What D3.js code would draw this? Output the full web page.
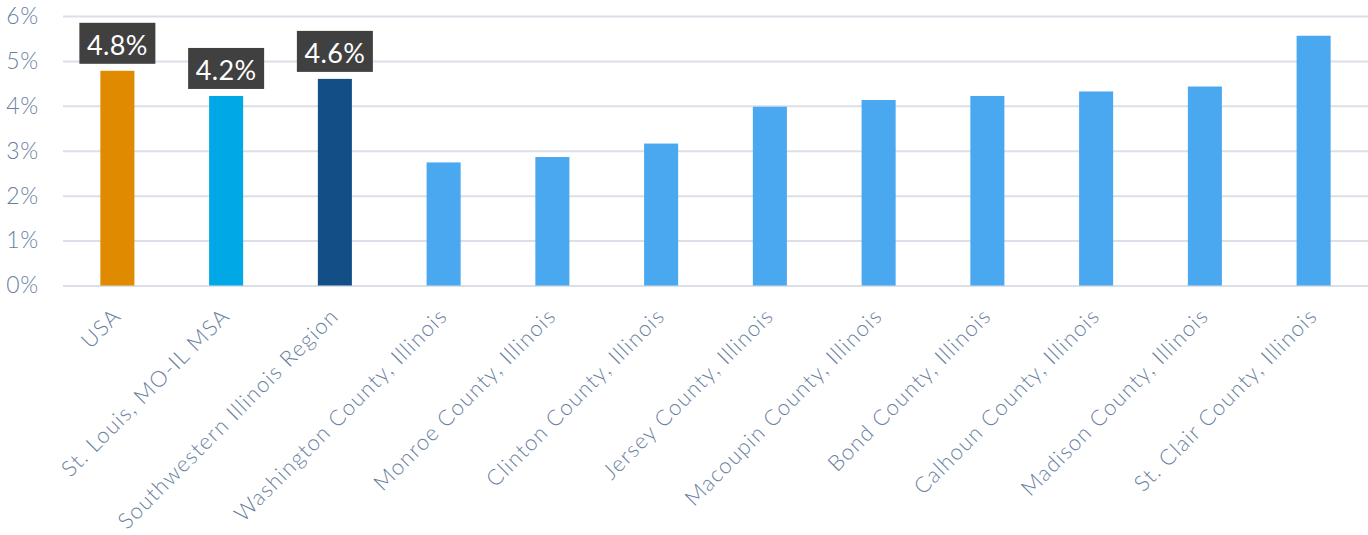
<!DOCTYPE html>
<html>
<head>
<meta charset="utf-8">
<script src="https://cdn.jsdelivr.net/npm/d3@7"></script>
<style>
  html, body { margin: 0; padding: 0; background: #fff; }
  svg { display: block; }
</style>
</head>
<body>
<svg id="chart" width="1368" height="535"></svg>
<script>
const categories = [
  "USA",
  "St. Louis, MO-IL MSA",
  "Southwestern Illinois Region",
  "Washington County, Illinois",
  "Monroe County, Illinois",
  "Clinton County, Illinois",
  "Jersey County, Illinois",
  "Macoupin County, Illinois",
  "Bond County, Illinois",
  "Calhoun County, Illinois",
  "Madison County, Illinois",
  "St. Clair County, Illinois"
];
const values = [4.78, 4.22, 4.6, 2.74, 2.86, 3.16, 3.98, 4.13, 4.22, 4.32, 4.43, 5.56];
const barColors = ["#e08a00", "#00a9e6", "#134f86", "#4aa8f0", "#4aa8f0", "#4aa8f0",
                   "#4aa8f0", "#4aa8f0", "#4aa8f0", "#4aa8f0", "#4aa8f0", "#4aa8f0"];
const labelIndices = [0, 1, 2];
const labelTexts = ["4.8%", "4.2%", "4.6%"];
const yTicks = [0, 1, 2, 3, 4, 5, 6];

const svg = d3.select("#chart");
const margin = { left: 63, right: 0, top: 16, bottom: 249.5 };
const W = 1368, H = 535;

const x = d3.scaleBand().domain(categories).range([margin.left, W - margin.right])
  .paddingInner(0.687).paddingOuter(0.3435);
const y = d3.scaleLinear().domain([0, 6]).range([H - margin.bottom, margin.top]);

const textColor = "#6a7fa1";
const fontFam = "Lato, 'Open Sans', sans-serif";

// gridlines
const grid = svg.append("g")
  .attr("transform", `translate(${margin.left},0)`)
  .call(d3.axisLeft(y).tickValues(yTicks).tickSize(-(W - margin.left - margin.right)).tickFormat(""));
grid.select(".domain").remove();
grid.selectAll("line").attr("stroke", "#dadfe8").attr("stroke-width", 2);

// y labels
const yAxis = svg.append("g").attr("transform", `translate(${margin.left},0)`)
  .call(d3.axisLeft(y).tickValues(yTicks).tickSize(0).tickPadding(24).tickFormat(d => d + "%"));
yAxis.select(".domain").remove();
yAxis.selectAll("text").attr("fill", textColor).attr("font-size", 23)
  .attr("font-family", fontFam).attr("font-weight", 300).attr("letter-spacing", 0.8);

// bars
svg.append("g").selectAll("rect").data(values).join("rect")
  .attr("x", (d, i) => x(categories[i]))
  .attr("width", x.bandwidth())
  .attr("y", d => y(d))
  .attr("height", d => y(0) - y(d))
  .attr("fill", (d, i) => barColors[i]);

// x labels
const xAxis = svg.append("g").attr("transform", `translate(0,${y(0)})`)
  .call(d3.axisBottom(x).tickSize(0).tickPadding(0));
xAxis.select(".domain").remove();
xAxis.selectAll("text")
  .attr("fill", textColor).attr("font-size", 22).attr("font-family", fontFam).attr("font-weight", 300)
  .attr("letter-spacing", 1.2)
  .attr("text-anchor", "end")
  .attr("dy", null).attr("y", null)
  .attr("transform", "translate(5,32) rotate(-45)");

// value labels
const lbl = svg.append("g").selectAll("g").data(labelIndices).join("g")
  .attr("transform", (d) => `translate(${x(categories[d]) + x.bandwidth() / 2},${y(values[d]) - 7})`);
lbl.append("rect").attr("x", -38).attr("y", -41).attr("width", 76).attr("height", 41).attr("fill", "#404040");
lbl.append("text").attr("x", 0).attr("y", -9).attr("text-anchor", "middle")
  .attr("fill", "#fff").attr("font-size", 27).attr("font-family", fontFam).attr("font-weight", 400)
  .attr("letter-spacing", 0.3)
  .text((d, i) => labelTexts[i]);
</script>
</body>
</html>
